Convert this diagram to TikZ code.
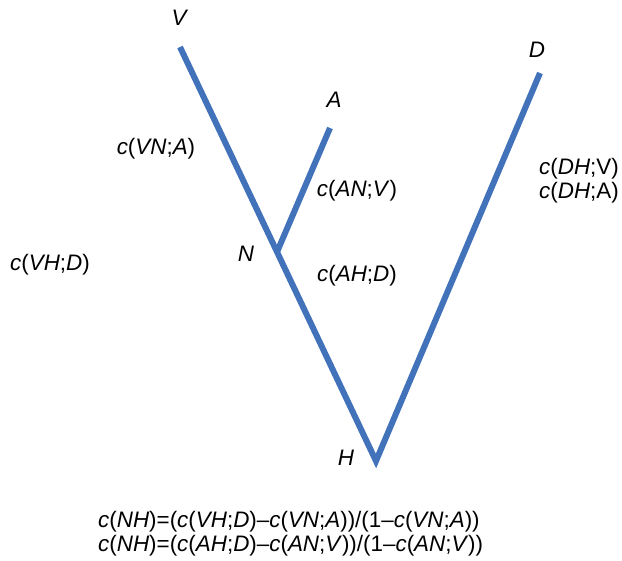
\documentclass[tikz,border=0pt]{standalone}
\usepackage{fontspec}
\setmainfont{Liberation Sans}
\definecolor{branch}{RGB}{66,114,186}
\begin{document}
\begin{tikzpicture}[x=1pt,y=-1pt,
  br/.style={draw=branch,line width=6pt},
  lbl/.style={inner sep=0pt,font=\fontsize{22.4}{24}\selectfont},
  eq/.style={lbl,align=left,anchor=west}]
\useasboundingbox (0,0) rectangle (622,561);
\coordinate (v) at (180,47);
\coordinate (h) at (376,461);
\coordinate (n) at (277,252);
\coordinate (a) at (330,128);
\coordinate (d) at (540,73);
\draw[br,line join=miter] (v) -- (h) -- (d);
\draw[br] (n) -- (a);
\node[lbl] (lv) at (180,18) {\textit{V}};
\node[lbl] (la) at (334,100) {\textit{A}};
\node[lbl] (ld) at (537,50) {\textit{D}};
\node[lbl] (ln) at (246,254) {\textit{N}};
\node[lbl] (lh) at (346,458) {\textit{H}};
\node[lbl] (cvn) at (156,149) {\textit{c}(\textit{VN};\textit{A})};
\node[lbl] (can) at (357,191) {\textit{c}(\textit{AN};\textit{V})};
\node[lbl] (cah) at (357,276) {\textit{c}(\textit{AH};\textit{D})};
\node[lbl] (cvh) at (50,265) {\textit{c}(\textit{VH};\textit{D})};
\node[eq] (cdh) at (539,181) {\textit{c}(\textit{DH};V)\\\textit{c}(\textit{DH};A)};
\node[eq] (form) at (98,534) {\textit{c}(\textit{NH})=(\textit{c}(\textit{VH};\textit{D})–\textit{c}(\textit{VN};\textit{A}))/(1–\textit{c}(\textit{VN};\textit{A}))\\
\textit{c}(\textit{NH})=(\textit{c}(\textit{AH};\textit{D})–\textit{c}(\textit{AN};\textit{V}))/(1–\textit{c}(\textit{AN};\textit{V}))};
\end{tikzpicture}
\end{document}
